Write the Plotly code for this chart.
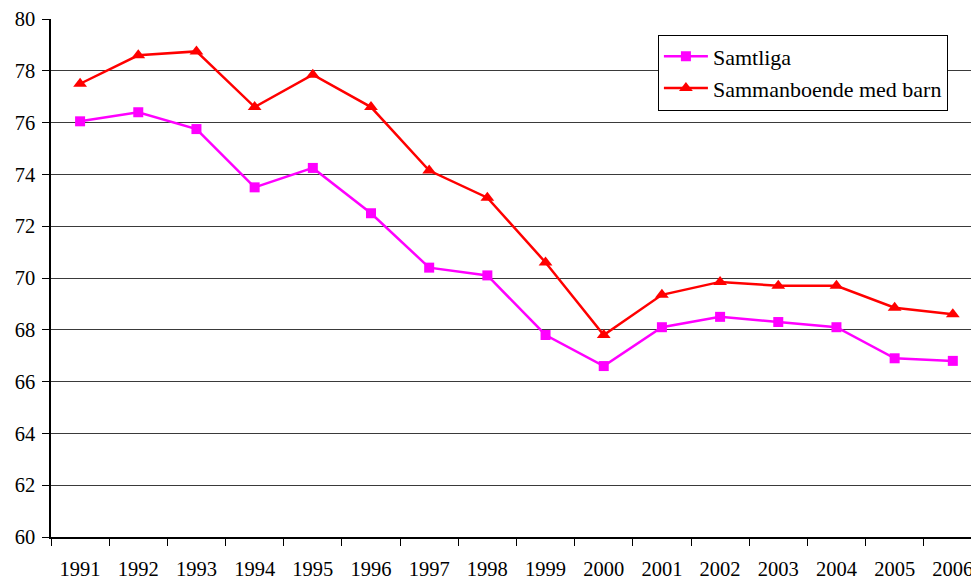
import plotly.graph_objects as go

years = [str(y) for y in range(1991, 2007)]
samtliga = [76.05, 76.4, 75.75, 73.5, 74.25, 72.5, 70.4, 70.1, 67.8, 66.6, 68.1, 68.5, 68.3, 68.1, 66.9, 66.8]
sammanboende = [77.5, 78.6, 78.75, 76.6, 77.85, 76.6, 74.15, 73.1, 70.6, 67.8, 69.35, 69.85, 69.7, 69.7, 68.85, 68.6]
yticks = [60, 62, 64, 66, 68, 70, 72, 74, 76, 78, 80]

font = "Liberation Serif"

fig = go.Figure()
fig.add_trace(go.Scatter(x=years, y=samtliga, name="Samtliga", mode="lines+markers",
                         line=dict(color="#ff00ff", width=2.5),
                         marker=dict(symbol="square", size=10, color="#ff00ff")))
fig.add_trace(go.Scatter(x=years, y=sammanboende, name="Sammanboende med barn", mode="lines+markers",
                         line=dict(color="#ff0000", width=2.5),
                         marker=dict(symbol="triangle-up", size=12, color="#ff0000")))

fig.update_layout(
    width=971, height=571,
    margin=dict(l=43, r=0, t=11, b=42),
    paper_bgcolor="white", plot_bgcolor="white",
    font=dict(family=font, size=20.5, color="black"),
    showlegend=True,
    legend=dict(x=0.654, y=0.97, xanchor="left", yanchor="top",
                bgcolor="white", bordercolor="black", borderwidth=1,
                font=dict(family=font, size=22), tracegroupgap=0,
                itemwidth=44),
)
fig.update_xaxes(type="category", range=[-0.5, 15.45], showgrid=False,
                 showline=True, linecolor="black", linewidth=1.5,
                 ticks="outside", tickson="boundaries", ticklen=7, tickcolor="black",
                 tickfont=dict(family=font, size=20.5), ticklabelstandoff=13)
fig.update_yaxes(range=[60, 80], tickvals=yticks, showgrid=True, gridcolor="#3a3a3a", gridwidth=1,
                 showline=True, linecolor="black", linewidth=1.5, zeroline=False,
                 ticks="outside", ticklen=7, tickcolor="black",
                 tickfont=dict(family=font, size=20.5), ticklabelstandoff=3)

fig.write_html("out.html")
